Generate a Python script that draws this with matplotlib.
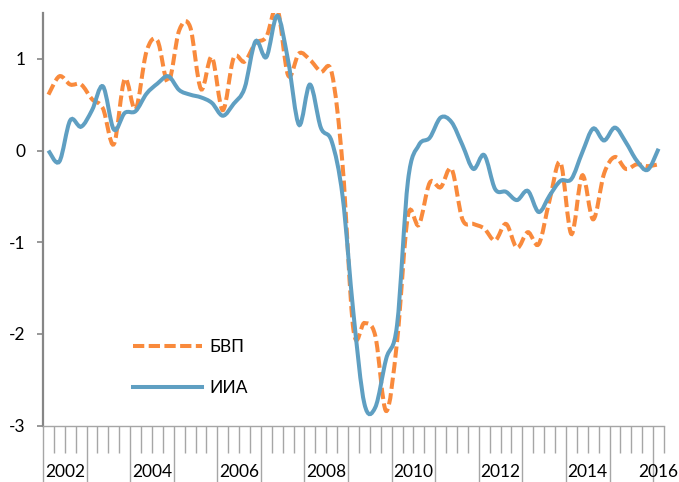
import numpy as np
import matplotlib
matplotlib.use("Agg")
import matplotlib.pyplot as plt
from matplotlib.path import Path
from matplotlib.patches import PathPatch
from matplotlib.lines import Line2D

plt.rcParams['font.family'] = ['Lato', 'DejaVu Sans']

# quarterly data, 2002Q1 .. 2016Q1
years = list(range(2002, 2017))
bvp = [0.61, 0.81, 0.72, 0.72, 0.56, 0.46, 0.07, 0.78, 0.45, 1.08,
       1.20, 0.74, 1.31, 1.35, 0.67, 1.02, 0.44, 1.01, 0.97, 1.17,
       1.24, 1.55, 0.82, 1.06, 0.99, 0.86, 0.85, -0.16, -1.96, -1.88,
       -2.02, -2.84, -2.08, -0.71, -0.81, -0.35, -0.40, -0.20, -0.75, -0.80,
       -0.85, -0.98, -0.80, -1.06, -0.89, -1.02, -0.54, -0.13, -0.91, -0.27,
       -0.75, -0.25, -0.07, -0.20, -0.15, -0.17, -0.15]
iia = [0.00, -0.12, 0.33, 0.26, 0.44, 0.70, 0.23, 0.41, 0.43, 0.62,
       0.73, 0.81, 0.66, 0.61, 0.58, 0.52, 0.38, 0.51, 0.68, 1.19,
       1.02, 1.47, 0.98, 0.28, 0.72, 0.25, 0.10, -0.50, -1.78, -2.76,
       -2.80, -2.27, -1.90, -0.33, 0.06, 0.14, 0.36, 0.31, 0.06, -0.20,
       -0.05, -0.42, -0.45, -0.54, -0.44, -0.67, -0.49, -0.33, -0.31, -0.02,
       0.24, 0.11, 0.25, 0.09, -0.11, -0.21, 0.02]

orange = '#F98A3C'
blue = '#5F9FC2'


def smooth_path(y):
    # Excel-like smoothed line: cubic Bezier through the points
    x = np.arange(len(y)) + 0.5
    p = np.column_stack([x, y])
    verts = [p[0]]
    codes = [Path.MOVETO]
    n = len(p)
    for i in range(n - 1):
        p0 = p[i - 1] if i > 0 else p[i]
        p3 = p[i + 2] if i + 2 < n else p[i + 1]
        c1 = p[i] + (p[i + 1] - p0) / 6
        c2 = p[i + 1] - (p3 - p[i]) / 6
        verts += [c1, c2, p[i + 1]]
        codes += [Path.CURVE4] * 3
    return Path(verts, codes)


fig = plt.figure(figsize=(6.79, 4.82), dpi=100)
ax = fig.add_axes([43 / 679, 56.3 / 482, 621 / 679, 412.7 / 482])

ax.add_patch(PathPatch(smooth_path(bvp), fill=False, edgecolor=orange,
                       lw=2.9, linestyle=(0, (2.8, 1.1)), capstyle='butt'))
ax.add_patch(PathPatch(smooth_path(iia), fill=False, edgecolor=blue, lw=2.9))

ax.set_xlim(0, len(iia))
ax.set_ylim(-3, 1.5)

for s in ['top', 'right']:
    ax.spines[s].set_visible(False)
ax.spines['left'].set_color('#868686')
ax.spines['left'].set_linewidth(1.6)
ax.spines['bottom'].set_color('#A6A6A6')
ax.spines['bottom'].set_linewidth(1.0)

ax.set_yticks([-3, -2, -1, 0, 1])
ax.set_yticklabels(['-3', '-2', '-1', '0', '1'])
ax.tick_params(axis='y', direction='out', length=4.5, width=1.2,
               color='#868686', labelsize=12.5, pad=8)

ax.set_xticks(range(0, len(iia), 4))
ax.set_xticks(range(len(iia) + 1), minor=True)
ax.set_xticklabels([])
ax.tick_params(axis='x', which='major', direction='out', length=42,
               width=1.0, color='#A6A6A6')
ax.tick_params(axis='x', which='minor', direction='out', length=19.5,
               width=1.0, color='#A6A6A6')

for k, yr in enumerate(years):
    if yr % 2:
        continue
    xc = 4 * k + 2 if 4 * k + 4 <= len(iia) else 4 * k + 0.5
    ax.annotate(str(yr), xy=(xc, 0), xycoords=('data', 'axes fraction'),
                xytext=(0, -33), textcoords='offset points',
                ha='center', va='center', fontsize=12.5, annotation_clip=False)

handles = [Line2D([], [], color=orange, lw=2.9, linestyle=(0, (2.8, 1.1))),
           Line2D([], [], color=blue, lw=2.9)]
ax.legend(handles, ['БВП', 'ИИА'], loc='upper left',
          bbox_to_anchor=(0.145, 0.21), frameon=False, fontsize=12.5,
          handlelength=4.0, handletextpad=0.4, labelspacing=1.45,
          borderpad=0, borderaxespad=0)

fig.savefig('out.png', dpi=100)
